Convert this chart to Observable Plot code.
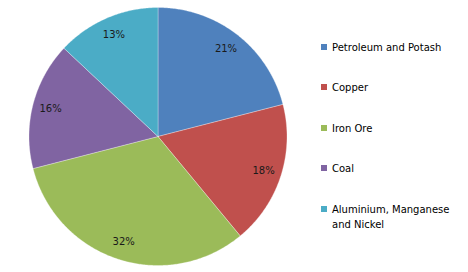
<!DOCTYPE html>
<html>
<head>
<meta charset="utf-8">
<script src="https://cdn.jsdelivr.net/npm/d3@7"></script>
<script src="https://cdn.jsdelivr.net/npm/@observablehq/plot@0.6"></script>
<style>
  html, body { margin: 0; padding: 0; background: #fff; }
  #wrap { position: relative; width: 468px; height: 272px; font-family: "DejaVu Sans", sans-serif; }
  #chart { position: absolute; left: 0; top: 0; }
  #legend { position: absolute; left: 321px; top: 40px; font-size: 10px; color: #000; }
  .item { position: relative; height: 40.4px; }
  .sw { position: absolute; left: 0; top: 4px; width: 6px; height: 6px; }
  .lab { position: absolute; left: 11px; top: 0; line-height: 15.5px; white-space: nowrap; }
</style>
</head>
<body>
<div id="wrap"><div id="chart"></div><div id="legend"></div></div>
<script>
const categories = ["Petroleum and Potash", "Copper", "Iron Ore", "Coal", "Aluminium, Manganese and Nickel"];
const legendLines = [["Petroleum and Potash"], ["Copper"], ["Iron Ore"], ["Coal"], ["Aluminium, Manganese", "and Nickel"]];
const shares = [21, 18, 32, 16, 13];
const colors = ["#4F81BD", "#C0504D", "#9BBB59", "#8064A2", "#4BACC6"];

// angles via d3.pie (clockwise from 12 o'clock, data order)
const arcs = d3.pie().sort(null).value(d => d)(shares);

const polyPts = [];
arcs.forEach((a, i) => {
  const cat = categories[i];
  polyPts.push({cat, x: 0, y: 0});
  const n = Math.max(2, Math.ceil((a.endAngle - a.startAngle) / 0.01));
  for (let k = 0; k <= n; k++) {
    const t = a.startAngle + (a.endAngle - a.startAngle) * k / n;
    polyPts.push({cat, x: Math.sin(t), y: -Math.cos(t)});
  }
  polyPts.push({cat, x: 0, y: 0});
});

const labelR = 0.86;
const labels = arcs.map((a, i) => {
  const m = (a.startAngle + a.endAngle) / 2;
  return {cat: categories[i], text: shares[i] + "%", x: labelR * Math.sin(m), y: -labelR * Math.cos(m)};
});

const plot = Plot.plot({
  width: 300,
  height: 272,
  margin: 0,
  style: {fontFamily: "DejaVu Sans, sans-serif", fontSize: "10px", background: "white"},
  x: {domain: [-1, 1], range: [28.5, 286.5], axis: null},
  y: {domain: [-1, 1], range: [7, 265], axis: null},
  color: {domain: categories, range: colors},
  marks: [
    Plot.line(polyPts, {x: "x", y: "y", z: "cat", fill: "cat", stroke: "white", strokeWidth: 0.6, strokeOpacity: 0.5, curve: "linear-closed"}),
    Plot.text(labels, {x: "x", y: "y", text: "text", fill: "#1a1a1a", fontSize: 10})
  ]
});
document.getElementById("chart").appendChild(plot);

const legend = document.getElementById("legend");
legendLines.forEach((lines, i) => {
  const item = document.createElement("div");
  item.className = "item";
  const sw = document.createElement("div");
  sw.className = "sw";
  sw.style.background = colors[i];
  const lab = document.createElement("div");
  lab.className = "lab";
  lab.innerHTML = lines.join("<br>");
  item.appendChild(sw);
  item.appendChild(lab);
  legend.appendChild(item);
});
</script>
</body>
</html>
